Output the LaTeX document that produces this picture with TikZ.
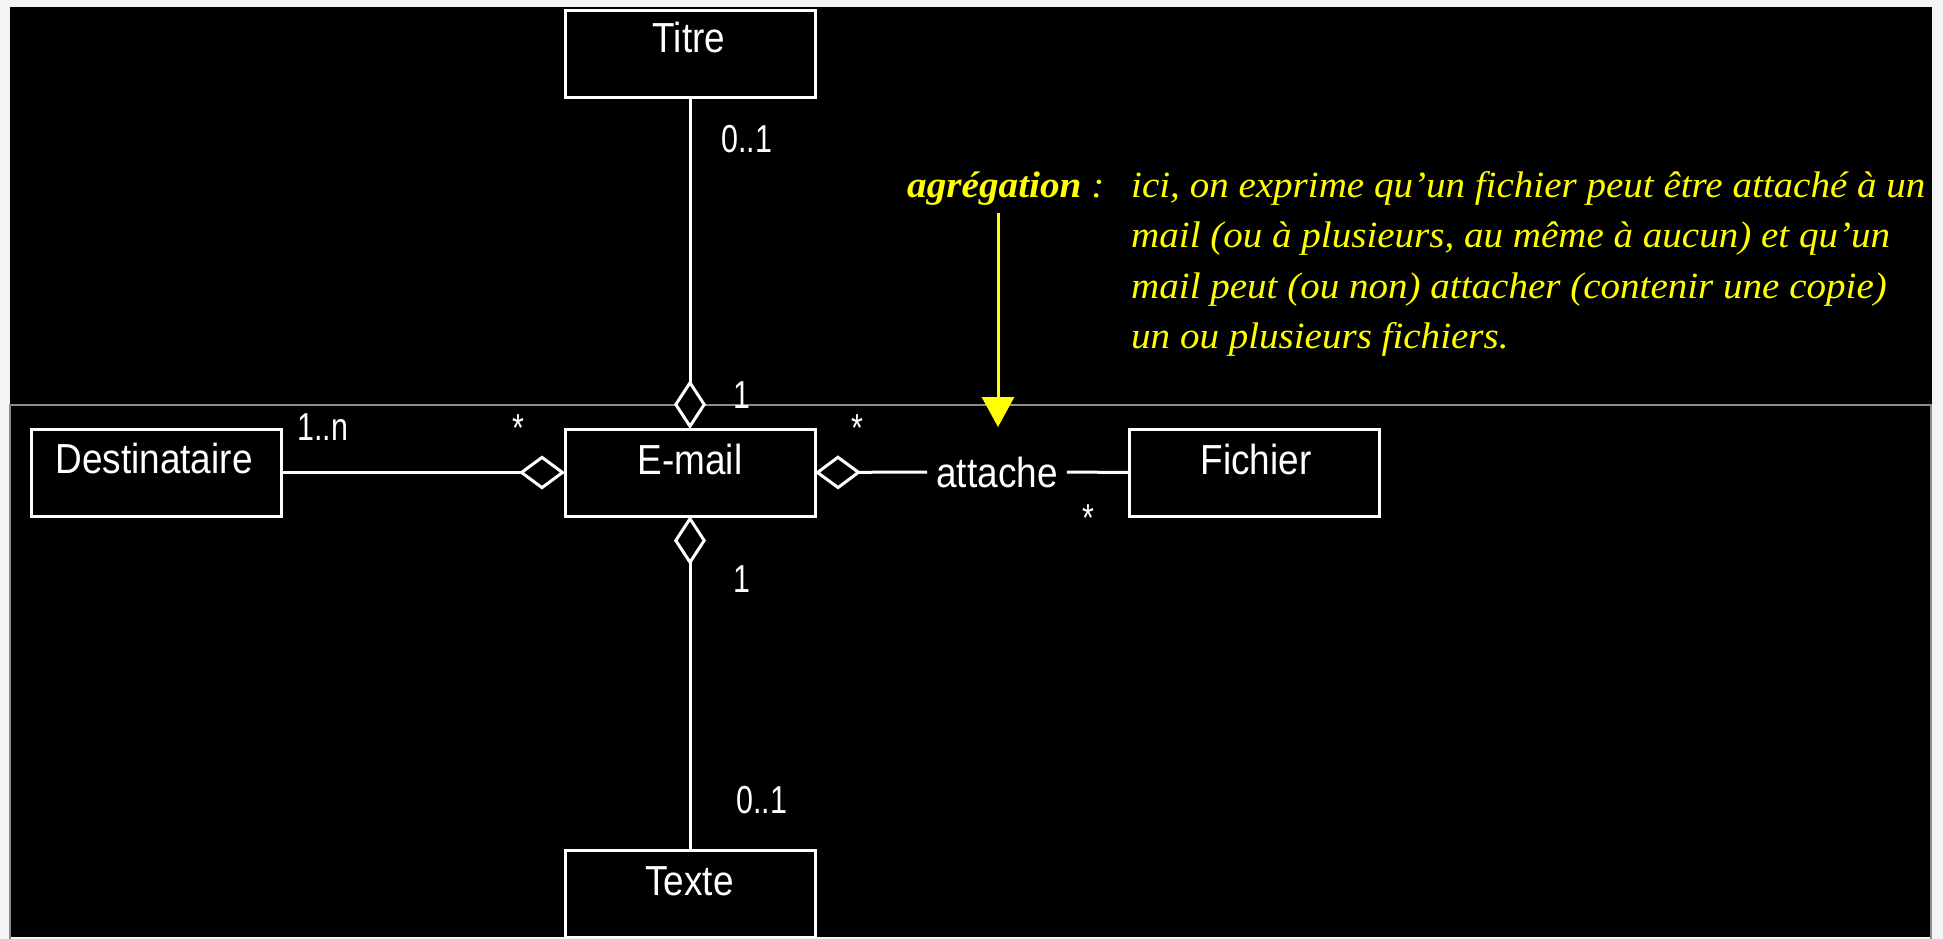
\documentclass[tikz,border=0pt]{standalone}
\usepackage{graphicx}
\usepackage{fontspec}
\setmainfont{Liberation Serif}
\setsansfont{Liberation Sans}
\usetikzlibrary{arrows.meta}
\definecolor{bgpage}{HTML}{F4F4F7}
\definecolor{frameg}{HTML}{8C8C8C}
\definecolor{ylw}{HTML}{FFFF00}
\newcommand\boxlab[1]{{\sffamily\fontsize{42}{50}\selectfont\scalebox{0.88}[1]{#1}}}
\newcommand\multlab[1]{{\sffamily\fontsize{39}{46}\selectfont\scalebox{0.78}[1]{#1}}}
\newcommand\notefont{\fontsize{37}{50}\selectfont\itshape}
\begin{document}
\begin{tikzpicture}[x=1pt,y=-1pt,
  umlbox/.style={draw=white,line width=3pt,minimum width=250pt,minimum height=87pt,inner sep=0pt,outer sep=0pt,fill=black},
  boxtext/.style={text=white,anchor=base,inner sep=0pt},
  mult/.style={text=white,inner sep=0pt},
  conn/.style={draw=white,line width=3pt},
  aggv/.style={-{Diamond[length=49pt,width=32pt,fill=black]}},
  aggh/.style={-{Diamond[length=46pt,width=34pt,fill=black]}},
  note/.style={text=ylw,anchor=base west,inner sep=0pt}
]
\useasboundingbox (0,0) rectangle (1943,939);
\fill[bgpage] (0,0) rectangle (1943,939);
\fill[black] (10,7) rectangle (1932,937);
\draw[frameg,line width=1.5pt] (10,939) -- (10,405) -- (1931,405) -- (1931,939);

% boxes
\node[umlbox] (titre) at (690,54) {};
\node[umlbox] (email) at (690,472.5) {};
\node[umlbox] (dest) at (156.5,472.5) {};
\node[umlbox] (fichier) at (1254.5,472.5) {};
\begin{scope}
\clip (10,7) rectangle (1932,937);
\node[umlbox] (texte) at (690,893.5) {};
\end{scope}

% box labels
\node[boxtext] (titreL) at (689,53) {\boxlab{Titre}};
\node[boxtext] (emailL) at (690,474) {\boxlab{E-mail}};
\node[boxtext] (destL) at (154,473) {\boxlab{Destinataire}};
\node[boxtext] (fichierL) at (1256,474) {\boxlab{Fichier}};
\node[boxtext] (texteL) at (689.5,895) {\boxlab{Texte}};

% connectors
\draw[conn,aggh] (dest.east) -- (email.west);
\draw[conn,aggv] (titre.south) -- (email.north);
\draw[conn,aggv] (texte.north) -- (email.south);
\node[text=white,inner xsep=9pt,inner ysep=0pt] (attache) at (997,472) {\boxlab{attache}};
\draw[conn,aggh] (attache.west) -- (email.east);
\draw[conn] (attache.east) -- (fichier.west);

% multiplicities
\node[mult,anchor=base west] (m1) at (721,153) {\multlab{0..1}};
\node[mult,anchor=base west] (m2) at (733,408) {\multlab{1}};
\node[mult,anchor=base west] (m3) at (733,592) {\multlab{1}};
\node[mult,anchor=base west] (m4) at (736,813) {\multlab{0..1}};
\node[mult,anchor=base west] (m5) at (297,440) {\multlab{1..n}};
\node[mult,anchor=base] (m6) at (518,441) {\multlab{*}};
\node[mult,anchor=base] (m7) at (857,441) {\multlab{*}};
\node[mult,anchor=base] (m8) at (1088,531) {\multlab{*}};

% note
\node[note] (agreg) at (907,197) {\notefont\scalebox{1.06}[1]{\textbf{agrégation}~:}};
\node[note] (l1) at (1131,197) {\notefont\scalebox{1.055}[1]{ici, on exprime qu'un fichier peut être attaché à un}};
\node[note] (l2) at (1131,247.5) {\notefont\scalebox{1.055}[1]{mail (ou à plusieurs, au même à aucun) et qu'un}};
\node[note] (l3) at (1131,298) {\notefont\scalebox{1.055}[1]{mail peut (ou non) attacher (contenir une copie)}};
\node[note] (l4) at (1131,348.5) {\notefont\scalebox{1.055}[1]{un ou plusieurs fichiers.}};
\coordinate (atip) at (998,427);
\draw[ylw,line width=3pt,shorten <=8pt,-{Triangle[length=30pt,width=32pt]}] (agreg.south -| atip) -- (atip);
\end{tikzpicture}
\end{document}
